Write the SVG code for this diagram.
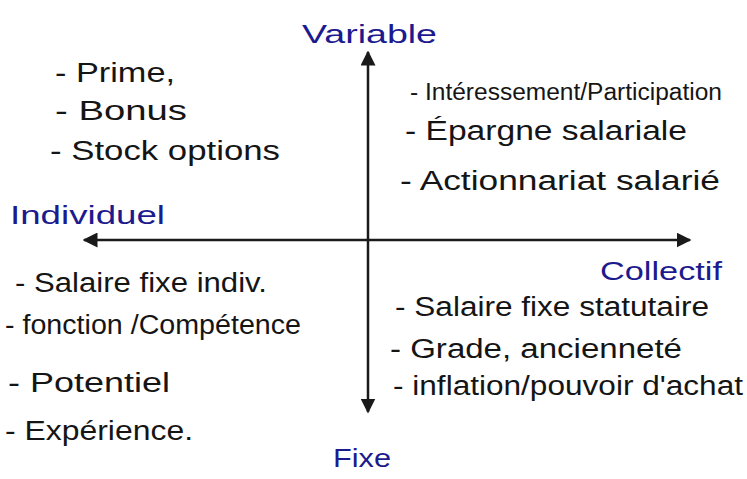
<svg xmlns="http://www.w3.org/2000/svg" width="747" height="479" viewBox="0 0 747 479">
<style>
.t{font-family:"Liberation Sans",Arial,sans-serif;font-size:27px;fill:#151515}
.s{font-size:23px}
.b{font-family:"Liberation Sans",Arial,sans-serif;font-size:26px;fill:#1c1a8e}
.ax{stroke:#1a1a1a;stroke-width:2.5;fill:none}
</style>
<defs>
<marker id="ah" viewBox="0 0 10 10" refX="9" refY="5" markerWidth="6" markerHeight="6" orient="auto-start-reverse" markerUnits="strokeWidth">
<path d="M0,0 L10,5 L0,10 Z" fill="#1a1a1a"/>
</marker>
</defs>
<rect width="747" height="479" fill="#ffffff"/>
<g id="connectors">
<line class="ax" x1="368" y1="412" x2="368" y2="52" marker-end="url(#ah)" marker-start="url(#ah)"/>
<line class="ax" x1="84" y1="240" x2="690" y2="240" marker-end="url(#ah)" marker-start="url(#ah)"/>
</g>
<g id="axis-variable"><text class="b" x="302" y="43" textLength="135" lengthAdjust="spacingAndGlyphs">Variable</text></g>
<g id="axis-fixe"><text class="b" x="333" y="467" textLength="58" lengthAdjust="spacingAndGlyphs">Fixe</text></g>
<g id="axis-individuel"><text class="b" x="10" y="224" textLength="155" lengthAdjust="spacingAndGlyphs">Individuel</text></g>
<g id="axis-collectif"><text class="b" x="600" y="280" textLength="122" lengthAdjust="spacingAndGlyphs">Collectif</text></g>
<g id="q-variable-individuel">
<text class="t" x="55" y="82" textLength="120" lengthAdjust="spacingAndGlyphs">- Prime,</text>
<text class="t" x="55" y="120" textLength="132" lengthAdjust="spacingAndGlyphs">- Bonus</text>
<text class="t" x="50" y="160" textLength="230" lengthAdjust="spacingAndGlyphs">- Stock options</text>
</g>
<g id="q-variable-collectif">
<text class="t s" x="410" y="100" textLength="312" lengthAdjust="spacingAndGlyphs">- Intéressement/Participation</text>
<text class="t" x="405" y="140" textLength="282" lengthAdjust="spacingAndGlyphs">- Épargne salariale</text>
<text class="t" x="400" y="190" textLength="320" lengthAdjust="spacingAndGlyphs">- Actionnariat salarié</text>
</g>
<g id="q-fixe-individuel">
<text class="t" x="15" y="292" textLength="252" lengthAdjust="spacingAndGlyphs">- Salaire fixe indiv.</text>
<text class="t" x="5" y="334" textLength="296" lengthAdjust="spacingAndGlyphs">- fonction /Compétence</text>
<text class="t" x="8" y="392" textLength="162" lengthAdjust="spacingAndGlyphs">- Potentiel</text>
<text class="t" x="5" y="440" textLength="188" lengthAdjust="spacingAndGlyphs">- Expérience.</text>
</g>
<g id="q-fixe-collectif">
<text class="t" x="395" y="316" textLength="314" lengthAdjust="spacingAndGlyphs">- Salaire fixe statutaire</text>
<text class="t" x="390" y="358" textLength="292" lengthAdjust="spacingAndGlyphs">- Grade, ancienneté</text>
<text class="t" x="393" y="395" textLength="350" lengthAdjust="spacingAndGlyphs">- inflation/pouvoir d'achat</text>
</g>
</svg>
